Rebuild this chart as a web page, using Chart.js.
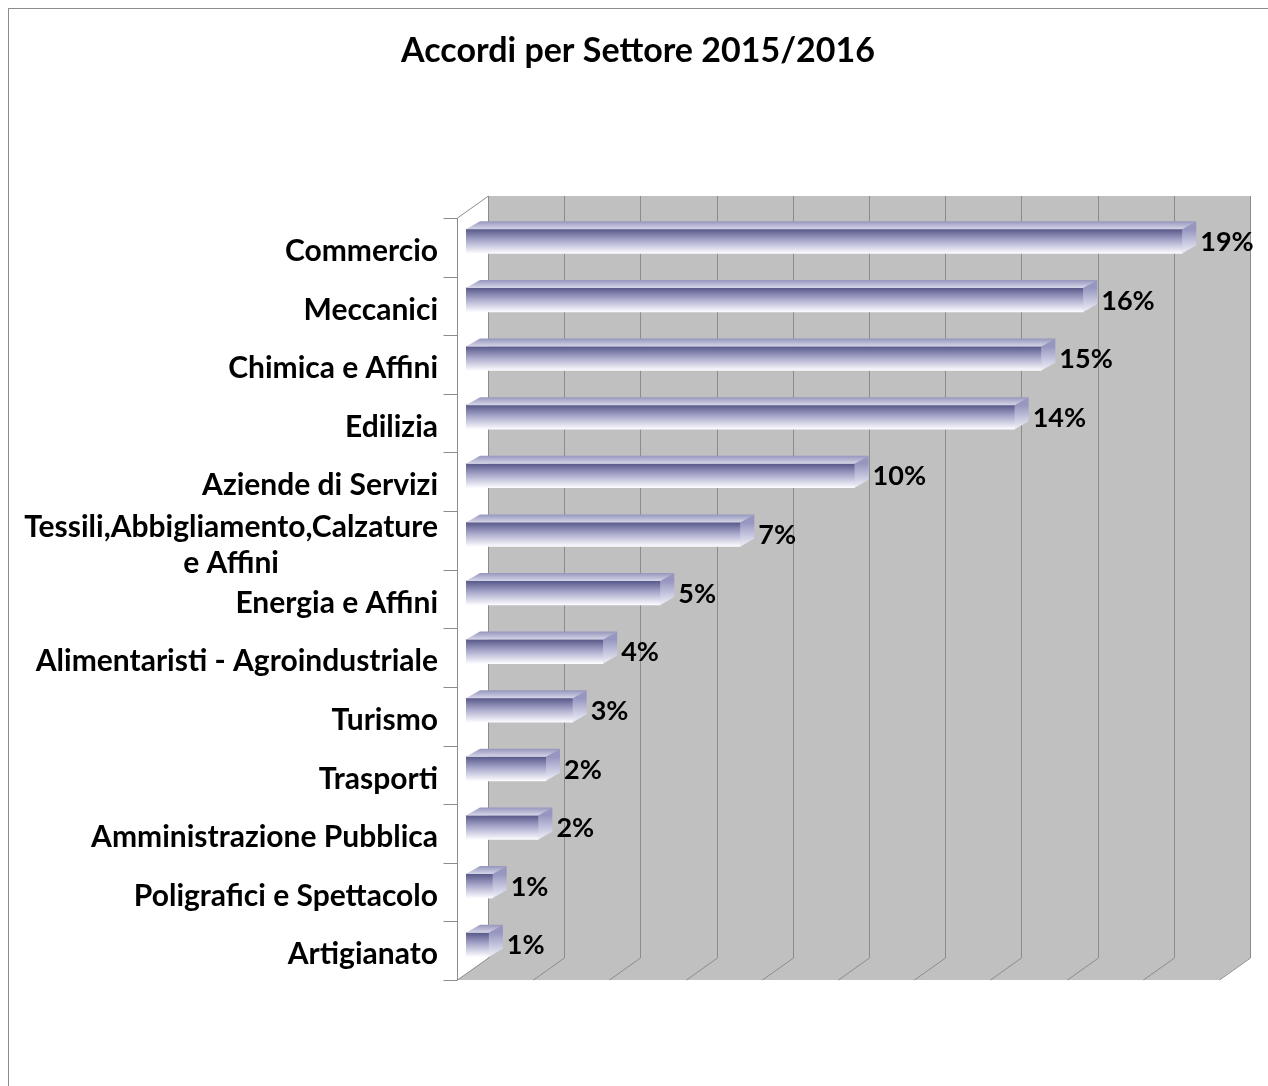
<!DOCTYPE html>
<html>
<head>
    <title>Accordi per Settore 2015/2016</title>
    <script src="https://cdn.jsdelivr.net/npm/chart.js@4.4.0/dist/chart.umd.min.js"></script>
    <style>
        body { margin: 0; background: #fff; }
        #wrap { position: relative; width: 1268px; height: 1086px; }
    </style>
</head>
<body>
    <div id="wrap">
        <canvas id="settoriChart" width="1268" height="1086"></canvas>
    </div>

    <script>
        // Dati
        var chartTitle = 'Accordi per Settore 2015/2016';
        var settori = [
            'Commercio',
            'Meccanici',
            'Chimica e Affini',
            'Edilizia',
            'Aziende di Servizi',
            ['Tessili,Abbigliamento,Calzature', 'e Affini'],
            'Energia e Affini',
            'Alimentaristi - Agroindustriale',
            'Turismo',
            'Trasporti',
            'Amministrazione Pubblica',
            'Poligrafici e Spettacolo',
            'Artigianato'
        ];
        var percentuali = [18.8, 16.2, 15.1, 14.4, 10.2, 7.2, 5.1, 3.6, 2.8, 2.1, 1.9, 0.7, 0.6];
        var asseMax = 20;
        var asseStep = 2;

        // profondita 3D (pixel)
        var FRONT = { dx: -9, dy: 6 };     // piano frontale rispetto al piano delle barre
        var WALL = { dx: 31, dy: -22 };    // profondita delle pareti
        var BAR = { dx: 14, dy: -8 };      // profondita delle barre

        var FONT = 'Lato, "Open Sans", sans-serif';

        // gradiente della faccia frontale della barra
        function frontGradient(context) {
            var chart = context.chart;
            if (!chart.chartArea || context.type !== 'data') return '#8080b0';
            var yScale = chart.scales.y;
            var yc = yScale.getPixelForValue(context.dataIndex);
            var g = chart.ctx.createLinearGradient(0, yc - 12, 0, yc + 12);
            g.addColorStop(0, 'rgb(88,88,138)');
            g.addColorStop(0.45, 'rgb(166,166,202)');
            g.addColorStop(1, 'rgb(252,252,255)');
            return g;
        }

        // pareti, pavimento, griglia e asse
        var wallsPlugin = {
            id: 'walls',
            beforeDatasetsDraw: function (chart) {
                var ctx = chart.ctx;
                var x = chart.scales.x;
                var area = chart.chartArea;
                var fl = area.left + FRONT.dx, fr = area.right + FRONT.dx;
                var ft = area.top + FRONT.dy, fb = area.bottom + FRONT.dy;
                var bl = fl + WALL.dx, br = fr + WALL.dx;
                var bt = ft + WALL.dy, bb = fb + WALL.dy;

                ctx.save();
                // parete di fondo
                ctx.fillStyle = '#c0c0c0';
                ctx.fillRect(bl, bt, br - bl, bb - bt);
                // pavimento
                ctx.beginPath();
                ctx.moveTo(fl, fb); ctx.lineTo(bl, bb); ctx.lineTo(br, bb); ctx.lineTo(fr, fb);
                ctx.closePath();
                ctx.fill();
                // parete laterale
                ctx.fillStyle = '#ffffff';
                ctx.beginPath();
                ctx.moveTo(fl, ft); ctx.lineTo(bl, bt); ctx.lineTo(bl, bb); ctx.lineTo(fl, fb);
                ctx.closePath();
                ctx.fill();

                ctx.strokeStyle = '#8c8c8c';
                ctx.lineWidth = 1;
                // linee della griglia sulla parete e sul pavimento
                for (var v = 0; v <= asseMax; v += asseStep) {
                    var px = Math.round(x.getPixelForValue(v) + FRONT.dx) + 0.5;
                    ctx.beginPath();
                    if (v > 0) {
                        ctx.moveTo(px + WALL.dx, bt);
                        ctx.lineTo(px + WALL.dx, bb);
                        ctx.lineTo(px, fb);
                    } else {
                        ctx.moveTo(px, ft);
                        ctx.lineTo(px + WALL.dx, bt);
                        ctx.lineTo(px + WALL.dx, bb);
                        ctx.lineTo(px, fb);
                    }
                    ctx.stroke();
                }
                // asse delle categorie con tacche
                var axX = Math.round(fl) + 0.5;
                ctx.beginPath();
                ctx.moveTo(axX, ft);
                ctx.lineTo(axX, fb);
                var band = (area.bottom - area.top) / settori.length;
                for (var i = 0; i <= settori.length; i++) {
                    var ty = Math.round(area.top + i * band + FRONT.dy) + 0.5;
                    ctx.moveTo(axX - 14, ty);
                    ctx.lineTo(axX, ty);
                }
                ctx.stroke();
                ctx.restore();
            },

            // facce superiore e laterale delle barre, etichette
            afterDatasetsDraw: function (chart) {
                var ctx = chart.ctx;
                var meta = chart.getDatasetMeta(0);
                var y = chart.scales.y;
                ctx.save();
                meta.data.forEach(function (bar, i) {
                    var p = bar.getProps(['x', 'y', 'base', 'height'], true);
                    var top = p.y - p.height / 2, bottom = p.y + p.height / 2;
                    var left = p.base, right = p.x;

                    // faccia superiore
                    var gt = ctx.createLinearGradient(0, top + BAR.dy, 0, top);
                    gt.addColorStop(0, 'rgb(150,150,190)');
                    gt.addColorStop(1, 'rgb(214,214,232)');
                    ctx.fillStyle = gt;
                    ctx.beginPath();
                    ctx.moveTo(left, top);
                    ctx.lineTo(left + BAR.dx, top + BAR.dy);
                    ctx.lineTo(right + BAR.dx, top + BAR.dy);
                    ctx.lineTo(right, top);
                    ctx.closePath();
                    ctx.fill();

                    // faccia laterale
                    var gs = ctx.createLinearGradient(0, top, 0, bottom);
                    gs.addColorStop(0, 'rgb(150,150,192)');
                    gs.addColorStop(1, 'rgb(240,240,250)');
                    ctx.fillStyle = gs;
                    ctx.beginPath();
                    ctx.moveTo(right, top);
                    ctx.lineTo(right + BAR.dx, top + BAR.dy);
                    ctx.lineTo(right + BAR.dx, bottom + BAR.dy);
                    ctx.lineTo(right, bottom);
                    ctx.closePath();
                    ctx.fill();

                    // etichetta del valore
                    ctx.fillStyle = '#000';
                    ctx.font = 'bold 27px ' + FONT;
                    ctx.textAlign = 'left';
                    ctx.textBaseline = 'middle';
                    ctx.fillText(Math.round(percentuali[i]) + '%', right + 18, p.y + 1);
                });

                // etichette delle categorie
                ctx.font = 'bold 30px ' + FONT;
                ctx.textBaseline = 'middle';
                var labelRight = chart.chartArea.left + FRONT.dx - 19;
                settori.forEach(function (lab, i) {
                    var yc = y.getPixelForValue(i) + 10;
                    if (Array.isArray(lab)) {
                        var w = 0;
                        lab.forEach(function (l) { w = Math.max(w, ctx.measureText(l).width); });
                        ctx.textAlign = 'center';
                        var lh = 36;
                        lab.forEach(function (l, k) {
                            ctx.fillText(l, labelRight - w / 2, yc + 1 + (k - (lab.length - 1) / 2) * lh);
                        });
                    } else {
                        ctx.textAlign = 'right';
                        ctx.fillText(lab, labelRight, yc);
                    }
                });

                // titolo
                ctx.font = 'bold 34px ' + FONT;
                ctx.textAlign = 'center';
                ctx.fillText(chartTitle, 638, 51);

                // bordo
                ctx.strokeStyle = '#8c8c8c';
                ctx.lineWidth = 1;
                ctx.strokeRect(8.5, 8.5, chart.width, chart.height);
                ctx.restore();
            }
        };

        var ctx = document.getElementById('settoriChart').getContext('2d');
        var settoriChart = new Chart(ctx, {
            type: 'bar',
            data: {
                labels: settori,
                datasets: [{
                    label: 'Accordi',
                    data: percentuali,
                    backgroundColor: frontGradient,
                    borderWidth: 0,
                    barThickness: 24
                }]
            },
            options: {
                indexAxis: 'y',
                responsive: false,
                animation: false,
                layout: {
                    padding: { left: 466, right: 40, top: 212, bottom: 112 }
                },
                scales: {
                    x: { display: false, min: 0, max: asseMax },
                    y: { display: false }
                },
                plugins: {
                    legend: { display: false },
                    tooltip: { enabled: false }
                }
            },
            plugins: [wallsPlugin]
        });
    </script>
</body>
</html>
